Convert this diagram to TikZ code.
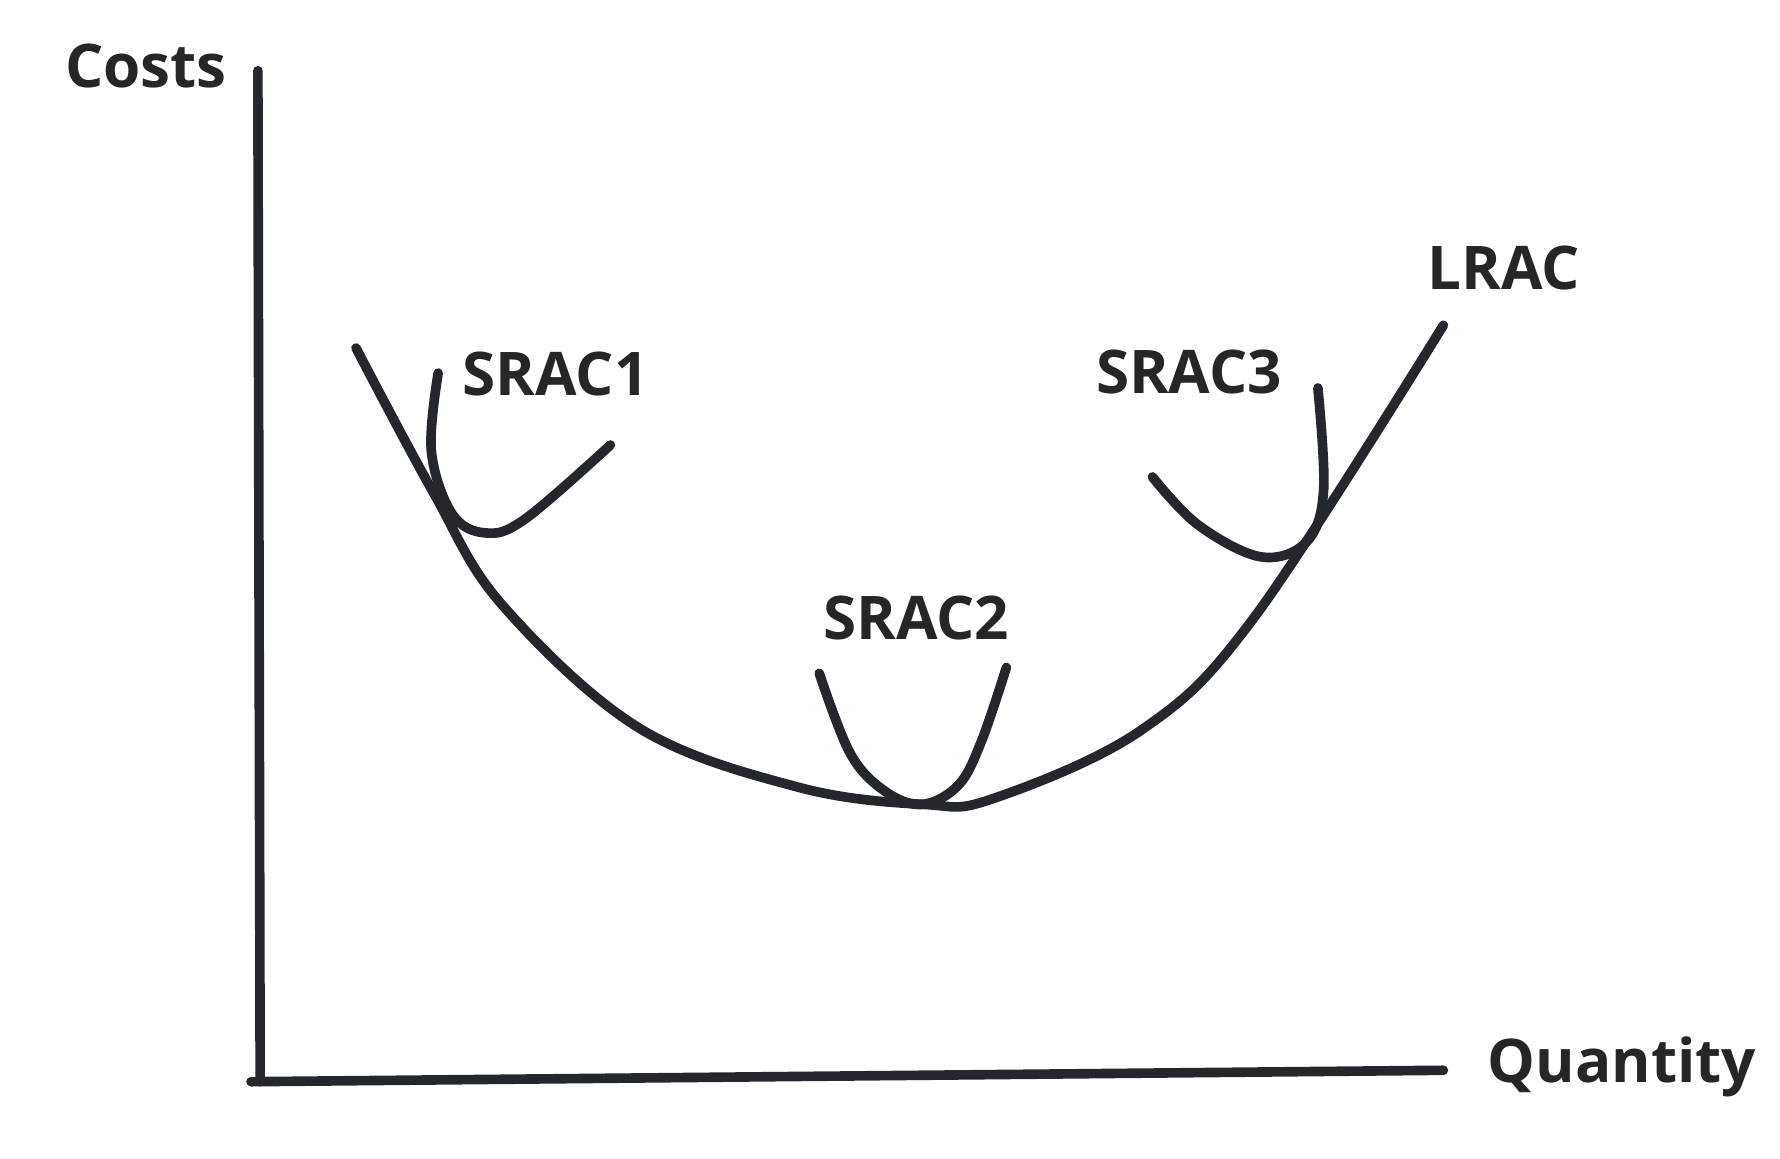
\documentclass[tikz,border=0pt]{standalone}
\usepackage{fontspec}
\setmainfont{Open Sans}
\begin{document}
\begin{tikzpicture}[x=0.01cm,y=-0.01cm,line width=2.4pt,line cap=round,line join=round,
  curvelabel/.style={font=\fontsize{15}{18}\selectfont\bfseries,text=black!85}]
\useasboundingbox (0,0) rectangle (1560,1015);
\definecolor{ink}{HTML}{24272B}

\draw (0,0) coordinate (topleft);
\coordinate (ytop) at (226,62);
\coordinate (origin) at (228,948);
\coordinate (xend) at (1265,938);

\draw [ink] (ytop) -- (origin);
\draw [ink] (220,948) -- (xend);

\node (costs) [curvelabel] at (128,58) {Costs};
\node (quantity) [curvelabel, right] at (1288,935) {Quantity};

% long run curve
\draw [ink] plot [smooth, tension=0.6] coordinates {(312,305) (380,432) (440,530) (560,638) (700,690) (810,705) (870,700) (1000,640) (1100,540) (1265,285)};
\node (lrac) [curvelabel] at (1318,235) {LRAC};

% short run curves
\draw [ink] plot [smooth, tension=0.6] coordinates {(384,327) (378,395) (396,450) (425,467) (460,455) (535,390)};
\node (srac1) [curvelabel] at (487,328) {SRAC1};

\draw [ink] plot [smooth, tension=0.6] coordinates {(718,590) (745,660) (775,693) (808,705) (840,688) (860,650) (882,585)};
\node (srac2) [curvelabel] at (803,542) {SRAC2};

\draw [ink] plot [smooth, tension=0.6] coordinates {(1010,418) (1050,460) (1105,488) (1145,475) (1160,430) (1155,340)};
\node (srac3) [curvelabel] at (1042,326) {SRAC3};

\end{tikzpicture}
\end{document}
